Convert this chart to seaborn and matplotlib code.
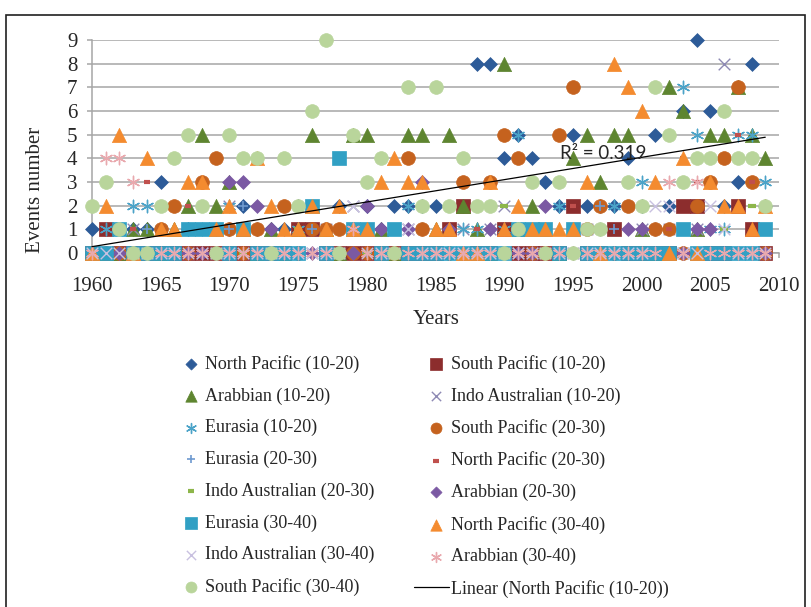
import numpy as np
import matplotlib
matplotlib.use("Agg")
import matplotlib.pyplot as plt
from matplotlib.legend_handler import HandlerLine2D
from matplotlib.lines import Line2D
from matplotlib.patches import Rectangle
import seaborn as sns

nan = float("nan")

years = list(range(1960, 2010))

north_pacific_10_20 = [1, 0, 0, 1, 1, 3, 0, 1, 0, 1, 1, 2, 1, 1, 1, 2, 1, 1, 2, 1,
                       2, 1, 2, 2, 2, 2, 1, 2, 8, 8, 4, 5, 4, 3, 2, 5, 2, 2, 2, 4,
                       2, 5, 2, 6, 9, 6, 2, 3, 8, 2]
south_pacific_10_20 = [0, 1, 0, 0, 0, 0, 0, 0, 0, 0, 0, 0, 0, 0, 0, 1, 1, 0, 0, 0,
                       0, 0, 0, 0, 0, 0, 1, 2, 0, 0, 1, 0, 0, 0, 0, 2, 0, 0, 1, 0,
                       0, 0, 0, 2, 2, 0, 0, 2, 1, 0]
arabbian_10_20 = [0, 0, 0, 1, 1, 0, 1, 2, 5, 2, 3, 1, 0, 1, 0, 1, 5, 1, 0, 5,
                  5, 1, 0, 5, 5, 1, 5, 2, 1, 0, 8, 1, 2, 1, 0, 4, 5, 3, 5, 5,
                  1, 0, 7, 6, 1, 5, 5, 7, 5, 4]
indo_australian_10_20 = [0, 0, 0, 1, 0, 0, 0, 1, 0, 0, 2, 0, 0, 0, 0, 0, 0, 1, 0, 2,
                         1, 0, 0, 1, 0, 0, 0, 1, 0, 1, 2, 0, 0, 0, 0, 0, 1, 0, 0, 0,
                         1, 0, 1, 0, 1, 0, 8, 0, 0, 1]
eurasia_10_20 = [0, 1, 0, 2, 2, 1, 0, 1, 1, 0, 2, 0, 0, 0, 0, 1, 0, 0, 0, 1,
                 0, 0, 0, 2, 1, 0, 0, 1, 1, 0, 1, 5, 0, 0, 2, 0, 0, 1, 2, 0,
                 3, 1, 0, 7, 5, 1, 1, 5, 5, 3]
south_pacific_20_30 = [0, 0, 0, 0, 0, 1, 2, 0, 3, 4, 1, 0, 1, 0, 2, 0, 1, 1, 1, 0,
                       0, 0, 0, 4, 1, 0, 0, 3, 0, 3, 5, 4, 0, 0, 5, 7, 1, 2, 0, 2,
                       0, 1, 1, 0, 2, 3, 4, 7, 3, 0]
eurasia_20_30 = [0, 0, 0, 0, 1, 0, 0, 0, 1, 0, 1, 2, 0, 0, 0, 0, 1, 0, 0, 0,
                 0, 0, 0, 0, 0, 0, 0, 0, 0, 0, 0, 0, 0, 0, 0, 0, 0, 2, 1, 0,
                 0, 0, 0, 0, 0, 0, 0, 0, 0, 0]
north_pacific_20_30 = [0, 0, 0, 1, 3, 0, 0, 2, 0, 0, 0, 0, 0, 0, 0, 0, 0, 0, 0, 0,
                       0, 0, 0, 0, 0, 0, 0, 0, 1, 0, 0, 0, 0, 0, 0, 2, 1, 0, 0, 0,
                       0, 0, 1, 4, 3, 0, 0, 5, 3, 0]
indo_australian_20_30 = [0, 0, 0, 0, 0, 0, 0, 0, 0, 0, 0, 0, 0, 0, 0, 1, 0, 0, 0, 0,
                         0, 0, 0, 0, 0, 0, 0, 0, 0, 0, 2, 0, 0, 0, 0, 0, 0, 0, 0, 0,
                         0, 0, 0, 0, 0, 0, 1, 0, 2, 0]
arabbian_20_30 = [0, 0, 0, 0, 0, 0, 0, 0, 0, 0, 3, 3, 2, 1, 0, 0, 0, 0, 0, 0,
                  2, 1, 0, 1, 3, 0, 1, 0, 0, 1, 0, 0, 0, 2, 0, 0, 0, 0, 0, 1,
                  1, 0, 0, 0, 1, 1, 0, 0, 0, 0]
eurasia_30_40 = [0, 0, 1, 0, 0, 0, 0, 1, 1, 1, 0, 1, 0, 0, 0, 0, 2, 0, 4, 1,
                 1, 0, 1, 0, 0, 0, 0, 0, 0, 0, 0, 1, 1, 1, 0, 1, 0, 0, 0, 0,
                 0, 0, 0, 1, 0, 0, 0, 0, 0, 1]
north_pacific_30_40 = [0, 2, 5, 0, 4, 1, 1, 3, 3, 1, 2, 1, 4, 2, 1, 1, 2, 1, 2, 1,
                       1, 3, 4, 3, 3, 1, 1, 0, 0, 3, 1, 2, 1, 1, 1, 1, 3, 0, 8, 7,
                       6, 3, 0, 4, 0, 3, 2, 2, 1, 2]
indo_australian_30_40 = [0, 0, 0, 0, 0, 0, 0, 0, 0, 0, 0, 0, 0, 0, 0, 0, 0, 0, 0, 2,
                         0, 0, 0, 1, 0, 0, 0, 0, 0, 0, 0, 0, 0, 0, 0, 0, 0, 0, 0, 0,
                         0, 2, 2, 0, 0, 2, 1, 0, 0, 0]
arabbian_30_40 = [0, 4, 4, 3, 0, 0, 0, 0, 0, 0, 0, 0, 0, 0, 0, 0, 0, 0, 0, 1,
                  0, 0, 0, 0, 0, 0, 0, 0, 0, 0, 0, 0, 0, 0, 0, 0, 0, 0, 0, 0,
                  0, 0, 3, 0, 3, 0, 0, 0, 0, 0]
south_pacific_30_40 = [2, 3, 1, 0, 0, 2, 4, 5, 2, 0, 5, 4, 4, 0, 4, 2, 6, 9, 0, 5,
                       3, 4, 0, 7, 2, 7, 2, 4, 2, 2, 0, 1, 3, 0, 3, 0, 1, 1, nan, 3,
                       2, 7, 5, 3, 4, 4, 6, 4, 4, 2]

r_squared_label = "R\u00b2 = 0.319"
x_ticks = [1960, 1965, 1970, 1975, 1980, 1985, 1990, 1995, 2000, 2005, 2010]
y_ticks = [0, 1, 2, 3, 4, 5, 6, 7, 8, 9]

# (label, values, marker, colour, size, line width, filled)
series = [
    ("North Pacific (10-20)", north_pacific_10_20, "D", "#2D5B98", 50, 0.5, True),
    ("South Pacific (10-20)", south_pacific_10_20, "s", "#8C2D2D", 100, 0.5, True),
    ("Arabbian (10-20)", arabbian_10_20, "^", "#5E8530", 105, 0.5, True),
    ("Indo Australian (10-20)", indo_australian_10_20, "x", "#8E8AB4", 70, 1.0, False),
    ("Eurasia (10-20)", eurasia_10_20, (6, 2, 0), "#4BA3C8", 80, 1.0, False),
    ("South Pacific (20-30)", south_pacific_20_30, "o", "#C5621E", 98, 0.5, True),
    ("Eurasia (20-30)", eurasia_20_30, "+", "#6E9AD0", 60, 1.2, False),
    ("North Pacific (20-30)", north_pacific_20_30, "_", "#C0504D", 25, 3.0, False),
    ("Indo Australian (20-30)", indo_australian_20_30, "_", "#8DB64A", 30, 3.0, False),
    ("Arabbian (20-30)", arabbian_20_30, "D", "#7B59A3", 50, 0.5, True),
    ("Eurasia (30-40)", eurasia_30_40, "s", "#31A0C4", 105, 0.5, True),
    ("North Pacific (30-40)", north_pacific_30_40, "^", "#F48B2F", 105, 0.5, True),
    ("Indo Australian (30-40)", indo_australian_30_40, "x", "#C8C0E0", 70, 1.0, False),
    ("Arabbian (30-40)", arabbian_30_40, (6, 2, 0), "#E9A9AE", 80, 1.0, False),
    ("South Pacific (30-40)", south_pacific_30_40, "o", "#B9D59B", 98, 0.5, True),
]

sns.set_style("white")
plt.rcParams["font.family"] = ["Liberation Serif", "DejaVu Serif"]

grid_c = "#A6A6A6"
W, H = 811, 607
fig = plt.figure(figsize=(W / 100, H / 100), dpi=100)
ax = fig.add_axes([92 / W, 1 - 253 / H, 687 / W, 213 / H])

handles = []
for i, (name, vals, marker, col, size, lw, filled) in enumerate(series):
    kw = dict(x=years, y=vals, ax=ax, marker=marker, color=col, s=size,
              linewidth=lw, label=name, clip_on=False, zorder=3 + i)
    if filled:
        kw["edgecolor"] = col
    sns.scatterplot(**kw)
    handles.append(ax.collections[-1])

# linear trend of North Pacific (10-20)
yrs = np.array(years, dtype=float)
np_vals = np.array(north_pacific_10_20, dtype=float)
coef = np.polyfit(yrs, np_vals, 1)
trend_x = np.array([yrs.min(), yrs.max()])
trend, = ax.plot(trend_x, np.polyval(coef, trend_x), color="black", lw=0.9,
                 zorder=30, clip_on=False, label="Linear (North Pacific (10-20))")

if ax.get_legend() is not None:
    ax.get_legend().remove()

ax.set_xlim(1960, 2010)
ax.set_ylim(0, 9)
ax.set_xticks(x_ticks)
ax.set_yticks(y_ticks)
ax.set_xlabel("")
ax.set_ylabel("")
ax.yaxis.grid(True, color=grid_c, lw=1.1)
ax.xaxis.grid(False)
ax.set_axisbelow(True)
for side in ("top", "right"):
    ax.spines[side].set_visible(False)
for side in ("left", "bottom"):
    ax.spines[side].set_color(grid_c)
    ax.spines[side].set_linewidth(1.1)
ax.tick_params(axis="y", left=True, length=3.6, width=1.1, color=grid_c,
               pad=7, labelsize=15)
ax.tick_params(axis="x", bottom=True, length=3.6, width=1.1, color=grid_c,
               pad=14, labelsize=15)

ax.text(1997.2, 4.22, r_squared_label, ha="center", va="center",
        fontsize=13.5, family=["Lato", "DejaVu Sans"], zorder=40)

fig.text(35 / W, 1 - 190 / H, "Events number", rotation=90, ha="center",
         va="center", fontsize=15)
fig.text(436 / W, 1 - 320 / H, "Years", ha="center", va="center", fontsize=15)


class LongLineHandler(HandlerLine2D):
    """Legend line that reaches further left than the marker slot."""

    def create_artists(self, legend, orig_handle, xdescent, ydescent, width,
                       height, fontsize, trans):
        artists = super().create_artists(legend, orig_handle, xdescent, ydescent,
                                          width, height, fontsize, trans)
        for a in artists:
            if isinstance(a, Line2D) and len(a.get_xdata()) >= 2:
                n = len(a.get_xdata())
                a.set_xdata(np.linspace(-xdescent - 0.75 * width,
                                        -xdescent + 1.2 * width, n))
        return artists


order = [0, 2, 4, 6, 8, 10, 12, 14, 1, 3, 5, 7, 9, 11, 13]
leg_handles = [handles[i] for i in order] + [trend]
leg_labels = [series[i][0] for i in order] + ["Linear (North Pacific (10-20))"]
fig.legend(leg_handles, leg_labels, ncol=2, loc="upper left",
           bbox_to_anchor=(182 / W, 1 - 355 / H), frameon=False,
           prop={"family": "Liberation Serif", "size": 13},
           handlelength=1.0, handletextpad=0.3, labelspacing=0.8,
           columnspacing=2.9, markerscale=0.8, borderpad=0, borderaxespad=0,
           handler_map={trend: LongLineHandler()})

fig.add_artist(Rectangle((6 / W, -0.05), (805 - 6) / W, 1 - 15 / H + 0.05,
                         transform=fig.transFigure, fill=False,
                         edgecolor="#202020", lw=1.2))

fig.savefig("out.png", dpi=100)
